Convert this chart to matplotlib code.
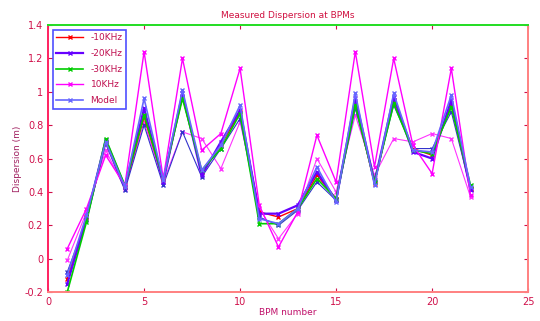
import numpy as np
import matplotlib as mpl
mpl.use('Agg')
import matplotlib.pyplot as plt
from matplotlib.ticker import FuncFormatter

# BPM index
bpm = list(range(1, 23))

# measured dispersion (m) per frequency shift
d_m10 = [-0.12, 0.25, 0.70, 0.43, 0.85, 0.47, 0.97, 0.52, 0.68, 0.88, 0.28,
         0.25, 0.30, 0.50, 0.36, 0.93, 0.45, 0.95, 0.66, 0.62, 0.92, 0.42]
d_m20 = [-0.15, 0.24, 0.71, 0.43, 0.90, 0.46, 0.99, 0.50, 0.70, 0.89, 0.27,
         0.27, 0.32, 0.52, 0.35, 0.96, 0.46, 0.97, 0.64, 0.60, 0.95, 0.41]
d_m30 = [-0.20, 0.22, 0.72, 0.44, 0.86, 0.48, 0.96, 0.53, 0.66, 0.87, 0.21,
         0.21, 0.30, 0.48, 0.36, 0.92, 0.46, 0.93, 0.65, 0.63, 0.91, 0.44]
d_p10 = [0.06, 0.30, 0.62, 0.44, 1.24, 0.48, 1.20, 0.65, 0.75, 1.14, 0.32,
         0.07, 0.28, 0.74, 0.46, 1.24, 0.55, 1.20, 0.68, 0.51, 1.14, 0.38]
d_model = [-0.10, 0.26, 0.70, 0.43, 0.96, 0.47, 1.01, 0.53, 0.68, 0.92, 0.24,
           0.21, 0.30, 0.55, 0.34, 0.99, 0.44, 0.99, 0.65, 0.64, 0.98, 0.43]

# other repeated measurements (not in legend)
d_rep1 = [-0.01, 0.28, 0.65, 0.42, 0.82, 0.46, 0.76, 0.72, 0.54, 0.82, 0.30,
          0.12, 0.27, 0.60, 0.40, 0.86, 0.50, 0.72, 0.70, 0.75, 0.72, 0.37]
d_rep2 = [-0.08, 0.23, 0.69, 0.41, 0.80, 0.44, 0.76, 0.49, 0.66, 0.84, 0.25,
          0.20, 0.29, 0.46, 0.35, 0.90, 0.47, 0.92, 0.66, 0.66, 0.88, 0.42]

fig = plt.figure(figsize=(5.4, 3.21), dpi=100)
ax = fig.add_axes([0.089, 0.09, 0.889, 0.832])

ax.plot(bpm, d_rep1, '-x', color='#ff33ff', lw=0.8, ms=3.5)
ax.plot(bpm, d_rep2, '-x', color='#3333cc', lw=0.8, ms=3.5)

ax.plot(bpm, d_m10, '-x', color='#ff0000', lw=1.0, ms=3.5, label='-10KHz')
ax.plot(bpm, d_m20, '-x', color='#6600ff', lw=1.6, ms=3.5, label='-20KHz')
ax.plot(bpm, d_m30, '-x', color='#00cc00', lw=1.2, ms=3.5, label='-30KHz')
ax.plot(bpm, d_p10, '-x', color='#ff00ff', lw=1.0, ms=3.5, label='10KHz')
ax.plot(bpm, d_model, '-x', color='#6666ff', lw=1.2, ms=3.5, label='Model')

ax.set_xlim(0, 25)
ax.set_ylim(-0.2, 1.4)
ax.set_xticks(np.arange(0, 26, 5))
ax.set_yticks(np.arange(-0.2, 1.41, 0.2))
ax.yaxis.set_major_formatter(FuncFormatter(lambda v, p: '%g' % round(v, 1)))
ax.tick_params(direction='in', length=3, labelsize=7, colors='#d0104a',
               top=True, right=True)

for side, c in [('left', '#ff2060'), ('bottom', '#ff8080'),
                ('top', '#22dd22'), ('right', '#ff8080')]:
    ax.spines[side].set_color(c)
    ax.spines[side].set_linewidth(1.4)

ax.set_title('Measured Dispersion at BPMs', fontsize=6.5, color='#d01040', pad=5)
ax.set_xlabel('BPM number', fontsize=6.5, color='#c0106a', labelpad=1)
ax.set_ylabel('Dispersion (m)', fontsize=6.5, color='#a02060', labelpad=2)

leg = ax.legend(loc='upper left', fontsize=6.5, frameon=True, fancybox=False,
                handlelength=3, borderaxespad=0.5, labelspacing=0.75)
leg.get_frame().set_edgecolor('#2222ff')
leg.get_frame().set_linewidth(1.2)
for t in leg.get_texts():
    t.set_color('#c01050')

fig.savefig('out.png', dpi=100)
